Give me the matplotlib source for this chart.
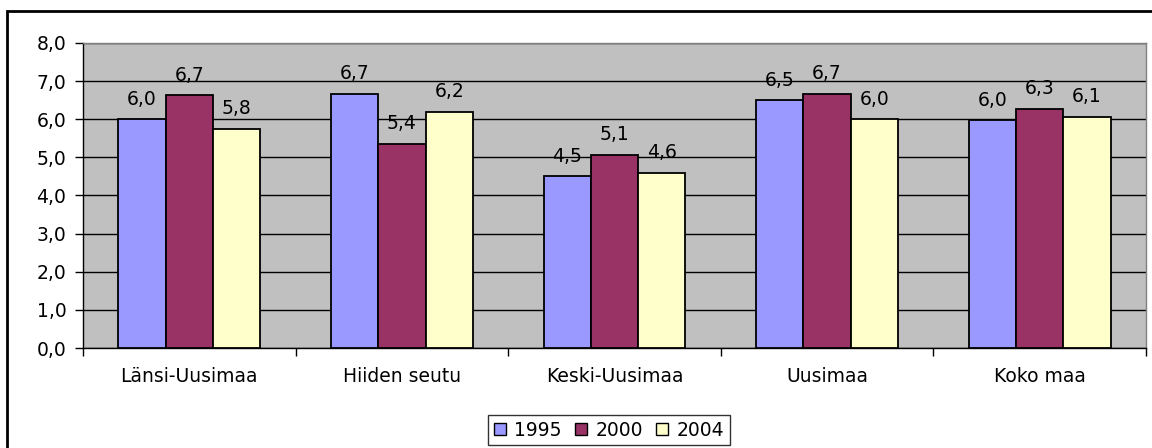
import numpy as np
import matplotlib.pyplot as plt
from matplotlib.patches import Rectangle, Patch

categories = ["Länsi-Uusimaa", "Hiiden seutu", "Keski-Uusimaa", "Uusimaa", "Koko maa"]
years = ["1995", "2000", "2004"]
v1995 = [6.0, 6.67, 4.5, 6.5, 5.97]
v2000 = [6.63, 5.35, 5.07, 6.67, 6.28]
v2004 = [5.75, 6.2, 4.6, 6.0, 6.06]
labels1995 = ["6,0", "6,7", "4,5", "6,5", "6,0"]
labels2000 = ["6,7", "5,4", "5,1", "6,7", "6,3"]
labels2004 = ["5,8", "6,2", "4,6", "6,0", "6,1"]
yticks = [0, 1, 2, 3, 4, 5, 6, 7, 8]
colors = ["#9999FF", "#993366", "#FFFFCC"]

plt.rcParams["font.family"] = ["DejaVu Sans"]
FS = 13.5
W, H = 1152, 448
fig = plt.figure(figsize=(W / 100, H / 100), dpi=100)

# outer chart border
fig.patches.append(Rectangle((7 / W, -0.1), 1.2, (H - 11) / H + 0.1,
                             transform=fig.transFigure, fill=False,
                             edgecolor="black", linewidth=2))

ax = fig.add_axes([83 / W, (H - 348) / H, (1146 - 83) / W, (348 - 43) / H])
ax.set_facecolor("#C0C0C0")

x = np.arange(len(categories))
bw = 1 / 4.5
series = [v1995, v2000, v2004]
labs = [labels1995, labels2000, labels2004]
for i, (vals, lb) in enumerate(zip(series, labs)):
    pos = x + (i - 1) * bw
    ax.bar(pos, vals, width=bw, color=colors[i], edgecolor="black",
           linewidth=1.3, zorder=3)
    for p, v, t in zip(pos, vals, lb):
        ax.annotate(t, (p, v), xytext=(0, 10.5), textcoords="offset points",
                    ha="center", va="baseline", fontsize=FS, zorder=4)

ax.set_xlim(-0.5, len(categories) - 0.5)
ax.set_ylim(0, 8)
ax.set_yticks(yticks)
ax.set_yticklabels([f"{t:.1f}".replace(".", ",") for t in yticks], fontsize=FS)
ax.yaxis.grid(True, color="black", linewidth=1, zorder=0)
ax.set_axisbelow(True)

ax.set_xticks(x)
ax.set_xticklabels(categories, fontsize=FS)
ax.set_xticks(np.arange(len(categories) + 1) - 0.5, minor=True)
ax.tick_params(axis="x", which="major", length=0, pad=14)
ax.tick_params(axis="x", which="minor", length=6, width=1, direction="out")
ax.tick_params(axis="y", length=6, width=1, pad=6)

for s in ["top", "right"]:
    ax.spines[s].set_color("#808080")
    ax.spines[s].set_linewidth(1)
for s in ["left", "bottom"]:
    ax.spines[s].set_color("black")
    ax.spines[s].set_linewidth(1)

handles = [Patch(facecolor=c, edgecolor="black", linewidth=1) for c in colors]
fig.legend(handles, years, loc="center", bbox_to_anchor=(609 / W, (H - 430) / H),
           ncol=3, fontsize=FS, frameon=True, fancybox=False, edgecolor="black",
           handlelength=0.65, handleheight=0.65, handletextpad=0.45, columnspacing=0.7,
           borderpad=0.3, borderaxespad=0)

fig.savefig("out.png", dpi=100)
